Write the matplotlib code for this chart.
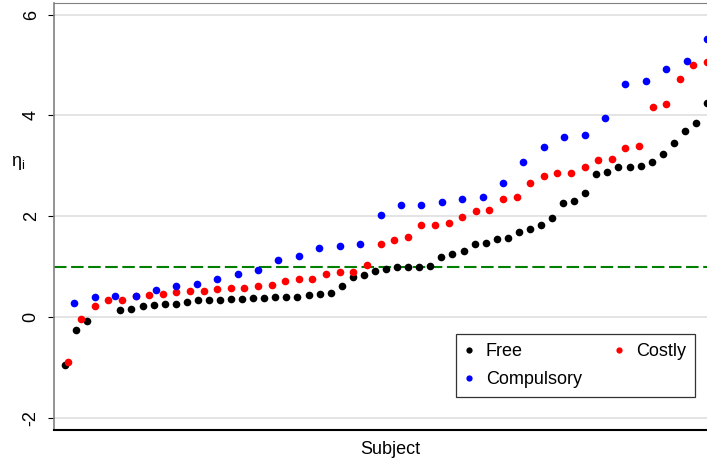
import matplotlib.pyplot as plt
from matplotlib.lines import Line2D

plt.rcParams['font.family'] = ['Liberation Sans', 'DejaVu Sans']

# Free: 59 subjects, ranks 4 and 5 not shown
free_n = 59
free_rank = [1, 2, 3] + list(range(6, 60))
free_eta = [-0.95, -0.26, -0.08, 0.14, 0.16, 0.21, 0.23, 0.25, 0.25, 0.29,
            0.33, 0.33, 0.33, 0.36, 0.36, 0.37, 0.37, 0.40, 0.40, 0.40,
            0.44, 0.46, 0.48, 0.62, 0.80, 0.84, 0.91, 0.95, 1.00, 1.00,
            1.00, 1.02, 1.19, 1.26, 1.32, 1.45, 1.47, 1.54, 1.56, 1.69,
            1.74, 1.83, 1.96, 2.26, 2.31, 2.46, 2.83, 2.87, 2.98, 2.98,
            3.00, 3.08, 3.23, 3.45, 3.70, 3.85, 4.25]

costly_n = 48
costly_rank = list(range(1, 49))
costly_eta = [-0.89, -0.03, 0.22, 0.33, 0.33, 0.42, 0.44, 0.45, 0.49, 0.51,
              0.51, 0.55, 0.57, 0.57, 0.62, 0.64, 0.72, 0.75, 0.76, 0.86,
              0.90, 0.90, 1.03, 1.44, 1.52, 1.59, 1.82, 1.82, 1.87, 1.99,
              2.11, 2.12, 2.35, 2.39, 2.65, 2.79, 2.85, 2.86, 2.98, 3.11,
              3.13, 3.36, 3.40, 4.17, 4.22, 4.72, 5.00, 5.05]

comp_n = 32
comp_rank = list(range(1, 33))
comp_eta = [0.28, 0.40, 0.42, 0.42, 0.53, 0.61, 0.66, 0.76, 0.86, 0.93,
            1.13, 1.21, 1.38, 1.40, 1.45, 2.02, 2.23, 2.22, 2.29, 2.35,
            2.39, 2.65, 3.08, 3.38, 3.57, 3.62, 3.95, 4.63, 4.68, 4.92,
            5.07, 5.51]

threshold = 1.0
yticks = [-2, 0, 2, 4, 6]

W, H = 707, 458
fig = plt.figure(figsize=(W / 100, H / 100), dpi=100)
ax = fig.add_axes([54 / W, 28 / H, 672 / W, 427 / H])

ax.set_xlim(0, 672 / 653)
ax.set_ylim(-2.24, 6.23)

for v in yticks:
    ax.axhline(v, color='#e4e4e4', lw=1.4, zorder=0)
ax.axhline(threshold, color='#008000', lw=1.5, dashes=(6, 2.2), zorder=1)

ms = 5.5
ax.plot([r / free_n for r in free_rank], free_eta, 'o', color='black',
        ms=ms, mew=0, zorder=2)
ax.plot([r / costly_n for r in costly_rank], costly_eta, 'o', color='red',
        ms=ms, mew=0, zorder=3)
ax.plot([r / comp_n for r in comp_rank], comp_eta, 'o', color='blue',
        ms=ms, mew=0, zorder=4)

ax.set_yticks(yticks)
ax.set_yticklabels([str(v) for v in yticks])
ax.tick_params(axis='y', direction='out', length=4.3, width=0.8,
               color='black', pad=6, labelsize=13, labelrotation=90)
for lbl in ax.get_yticklabels():
    lbl.set_va('center')
ax.set_xticks([])

ax.spines['left'].set_color('#808080')
ax.spines['left'].set_linewidth(1.2)
ax.spines['top'].set_color('#808080')
ax.spines['top'].set_linewidth(0.8)
ax.spines['bottom'].set_color('black')
ax.spines['bottom'].set_linewidth(1.5)
ax.spines['right'].set_visible(False)

ax.set_xlabel('Subject', fontsize=13, labelpad=8)
ax.set_ylabel(r'$\mathregular{\eta_i}$', fontsize=13, rotation=0,
              va='center', ha='center')
ax.yaxis.set_label_coords((18.5 - 54) / 672, (430 - 163) / 427)

handles = [
    Line2D([], [], ls='none', marker='o', color='black', ms=4.5, mew=0),
    Line2D([], [], ls='none', marker='o', color='blue', ms=4.5, mew=0),
    Line2D([], [], ls='none', marker='o', color='red', ms=4.5, mew=0),
]
labels = ['Free', 'Compulsory', 'Costly']
leg = ax.legend(handles, labels, ncol=2, loc='upper left',
                bbox_to_anchor=(456 / W, 1 - 334 / H),
                bbox_transform=fig.transFigure, fontsize=13,
                frameon=True, fancybox=False, edgecolor='black',
                handlelength=0.4, handletextpad=0.75, columnspacing=1.85,
                borderpad=0.5, labelspacing=0.6, borderaxespad=0)
leg.get_frame().set_linewidth(0.9)

fig.savefig('out.png', dpi=100)
